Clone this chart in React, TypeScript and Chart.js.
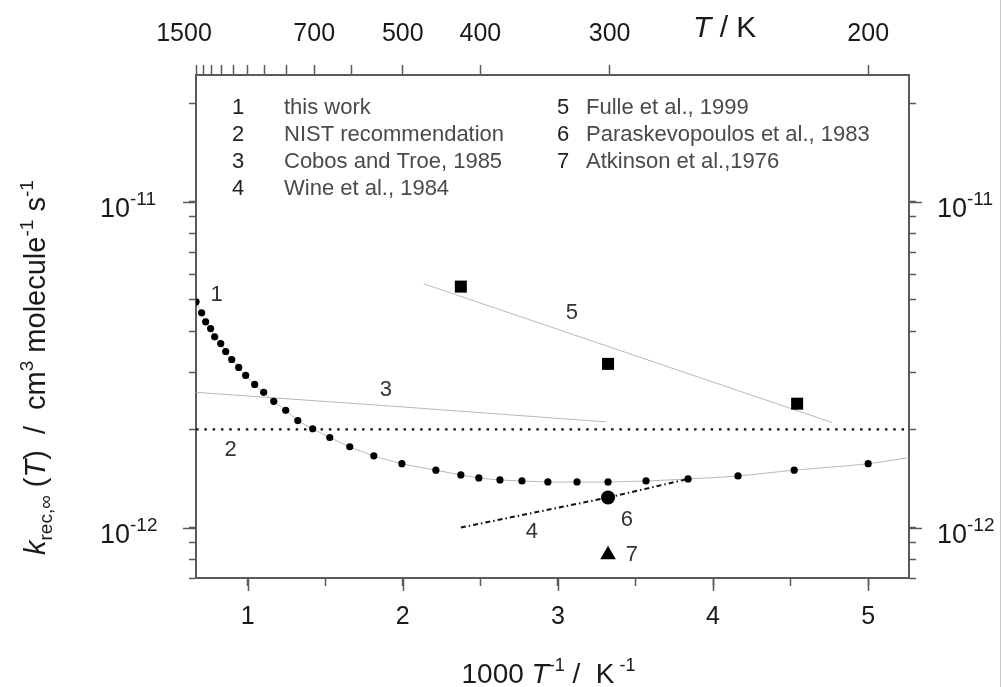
import React, { useEffect, useRef } from "react";
import { Chart, registerables } from "chart.js";

Chart.register(...registerables);

const FONT = "'Liberation Sans', Arial, Helvetica, sans-serif";

// ---- axis ranges ----
const xRange = [1000 / 1500, 1000 / 190];
const yRange = [7e-13, 2.45e-11];

// ---- tick definitions ----
const bottomMajor = [1, 2, 3, 4, 5];
const bottomMinor = [1.5, 2.5, 3.5, 4.5];
const topTickT = [1500, 1400, 1300, 1200, 1100, 1000, 900, 800, 700, 600, 500, 400, 300, 200];
const topLabelT = [700, 500, 400, 300, 200];
const topEdgeLabelT = 1500;
const yMajor = [1e-12, 1e-11];
const yMajorExp = ["-12", "-11"];
const yMinor = [7e-13, 8e-13, 9e-13, 2e-12, 3e-12, 4e-12, 5e-12, 6e-12, 7e-12, 8e-12, 9e-12, 2e-11];

// ---- series 1: this work (1000/T, k) ----
const thisWorkX = [0.667, 0.703, 0.729, 0.761, 0.787, 0.826, 0.858, 0.897, 0.942, 0.987, 1.045, 1.103, 1.168, 1.245, 1.323, 1.419, 1.529, 1.658, 1.813, 1.994, 2.213, 2.374, 2.49, 2.626, 2.768, 2.935, 3.123, 3.323, 3.568, 3.839, 4.161, 4.523, 5.0];
const thisWorkK = [4.93e-12, 4.56e-12, 4.28e-12, 4.08e-12, 3.85e-12, 3.67e-12, 3.47e-12, 3.28e-12, 3.1e-12, 2.93e-12, 2.75e-12, 2.6e-12, 2.44e-12, 2.29e-12, 2.13e-12, 2.01e-12, 1.89e-12, 1.77e-12, 1.66e-12, 1.57e-12, 1.5e-12, 1.45e-12, 1.42e-12, 1.4e-12, 1.39e-12, 1.38e-12, 1.38e-12, 1.38e-12, 1.39e-12, 1.41e-12, 1.44e-12, 1.5e-12, 1.57e-12];
const thisWorkEndX = [5.263];
const thisWorkEndK = [1.64e-12];

// ---- series 2: NIST recommendation ----
const nistX = [0.667, 5.263];
const nistK = [2.0e-12, 2.0e-12];

// ---- series 3: Cobos and Troe, 1985 ----
const cobosX = [0.667, 1.974, 3.31];
const cobosK = [2.6e-12, 2.35e-12, 2.11e-12];

// ---- series 4: Wine et al., 1984 ----
const wineX = [2.374, 3.323, 3.839];
const wineK = [1.0e-12, 1.236e-12, 1.41e-12];

// ---- series 5: Fulle et al., 1999 ----
const fulleX = [2.374, 3.323, 4.542];
const fulleK = [5.49e-12, 3.18e-12, 2.4e-12];
const fulleFitX = [2.135, 4.768];
const fulleFitK = [5.6e-12, 2.1e-12];

// ---- series 6: Paraskevopoulos et al., 1983 ----
const parasX = [3.323];
const parasK = [1.236e-12];

// ---- series 7: Atkinson et al., 1976 ----
const atkX = [3.323];
const atkK = [8.25e-13];

// ---- legend ----
const legendNums = ["1", "2", "3", "4", "5", "6", "7"];
const legendTexts = [
  "this work",
  "NIST recommendation",
  "Cobos and Troe, 1985",
  "Wine et al., 1984",
  "Fulle et al., 1999",
  "Paraskevopoulos et al., 1983",
  "Atkinson et al.,1976",
];

// curve label anchors (data coordinates)
const curveLabels = ["1", "2", "3", "4", "5", "6", "7"];
const curveLabelX = [0.8, 0.89, 1.89, 2.832, 3.09, 3.445, 3.477];
const curveLabelK = [5.19e-12, 1.735e-12, 2.65e-12, 9.72e-13, 4.57e-12, 1.058e-12, 8.26e-13];

const AXIS = "#5a5a5a";
const TXT = "#1a1a1a";
const LIGHT = "#b8b8b8";

const pts = (xs: number[], ys: number[]) => xs.map((x, i) => ({ x, y: ys[i] }));

type Part = { t: string; s: number; it?: boolean; dy?: number };
const fontOf = (p: Part) => `${p.it ? "italic " : ""}${p.s}px ${FONT}`;
function drawRich(ctx: CanvasRenderingContext2D, parts: Part[], x: number, y: number, align: "left" | "center" | "right") {
  let total = 0;
  const ws = parts.map((p) => {
    ctx.font = fontOf(p);
    const w = ctx.measureText(p.t).width;
    total += w;
    return w;
  });
  let cx = align === "left" ? x : align === "center" ? x - total / 2 : x - total;
  ctx.textAlign = "left";
  ctx.textBaseline = "alphabetic";
  parts.forEach((p, i) => {
    ctx.font = fontOf(p);
    ctx.fillText(p.t, cx, y + (p.dy || 0));
    cx += ws[i];
  });
}

const annotPlugin = {
  id: "annot",
  afterDraw(chart: any) {
    const ctx: CanvasRenderingContext2D = chart.ctx;
    const xs = chart.scales.x;
    const xt = chart.scales.x2;
    const ys = chart.scales.y;
    const { left, right, bottom } = chart.chartArea;
    ctx.save();

    // longer major tick marks
    ctx.strokeStyle = AXIS;
    ctx.lineWidth = 1.5;
    ctx.beginPath();
    bottomMajor.forEach((v) => {
      const px = Math.round(xs.getPixelForValue(v)) + 0.5;
      ctx.moveTo(px, bottom);
      ctx.lineTo(px, bottom + 13);
    });
    yMajor.forEach((v) => {
      const py = Math.round(ys.getPixelForValue(v)) + 0.5;
      ctx.moveTo(left - 13, py);
      ctx.lineTo(left, py);
      ctx.moveTo(right, py);
      ctx.lineTo(right + 13, py);
    });
    ctx.stroke();

    // edge label of the top axis (set slightly left of its tick, as in the original)
    ctx.fillStyle = TXT;
    ctx.font = `25px ${FONT}`;
    ctx.textAlign = "center";
    ctx.textBaseline = "middle";
    ctx.fillText(String(topEdgeLabelT), xt.getPixelForValue(1000 / topEdgeLabelT) - 12, 34);

    // y tick labels with superscripts
    yMajor.forEach((v, i) => {
      const py = ys.getPixelForValue(v);
      const parts: Part[] = [
        { t: "10", s: 27 },
        { t: yMajorExp[i], s: 19, dy: -12 },
      ];
      drawRich(ctx, parts, 100, py + 15, "left");
      drawRich(ctx, parts, 937, py + 15, "left");
    });

    // top axis title
    drawRich(ctx, [{ t: "T", s: 30, it: true }, { t: " / K", s: 30 }], 693, 37, "left");

    // bottom axis title
    drawRich(
      ctx,
      [
        { t: "1000 ", s: 28 },
        { t: "T", s: 28, it: true },
        { t: "-1", s: 18, dy: -12 },
        { t: " /  K", s: 28 },
        { t: " -1", s: 18, dy: -12 },
      ],
      (left + right) / 2 - 4,
      683,
      "center"
    );

    // y axis title (rotated)
    ctx.save();
    ctx.translate(45, 555);
    ctx.rotate(-Math.PI / 2);
    drawRich(
      ctx,
      [
        { t: "k", s: 29, it: true },
        { t: "rec,\u221e", s: 19, dy: 7 },
        { t: " (", s: 29 },
        { t: "T", s: 29, it: true },
        { t: ")  /  cm", s: 29 },
        { t: "3", s: 19, dy: -12 },
        { t: " molecule", s: 29 },
        { t: "-1", s: 19, dy: -12 },
        { t: " s", s: 29 },
        { t: "-1", s: 19, dy: -12 },
      ],
      0,
      0,
      "left"
    );
    ctx.restore();

    // legend
    const rowY = [108, 135, 162, 189];
    ctx.textBaseline = "middle";
    legendNums.forEach((n, i) => {
      const col = i < 4 ? 0 : 1;
      const row = i < 4 ? i : i - 4;
      const y = rowY[row];
      ctx.font = `22px ${FONT}`;
      ctx.fillStyle = "#222";
      ctx.textAlign = "center";
      ctx.fillText(n, col === 0 ? 238 : 563, y);
      ctx.fillStyle = "#4a4a4a";
      ctx.textAlign = "left";
      ctx.fillText(legendTexts[i], col === 0 ? 284 : 586, y);
    });

    // curve labels
    ctx.font = `22px ${FONT}`;
    ctx.fillStyle = "#333";
    ctx.textAlign = "center";
    ctx.textBaseline = "middle";
    curveLabels.forEach((l, i) => {
      ctx.fillText(l, xs.getPixelForValue(curveLabelX[i]), ys.getPixelForValue(curveLabelK[i]));
    });

    // right border line of the image
    ctx.strokeStyle = "#c8c8c8";
    ctx.lineWidth = 1;
    ctx.beginPath();
    ctx.moveTo(1000.5, 0);
    ctx.lineTo(1000.5, 687);
    ctx.stroke();

    ctx.restore();
  },
};

const axisGrid = (len: number) => ({
  drawOnChartArea: false,
  drawTicks: true,
  tickLength: len,
  tickColor: AXIS,
  tickWidth: 1.5,
  color: AXIS,
});
const axisBorder = { display: true, color: AXIS, width: 2 };

export default function App() {
  const ref = useRef<HTMLCanvasElement | null>(null);

  useEffect(() => {
    if (!ref.current) return;
    const chart = new Chart(ref.current, {
      type: "scatter",
      data: {
        datasets: [
          {
            label: "Paraskevopoulos et al., 1983",
            data: pts(parasX, parasK),
            pointStyle: "circle",
            pointRadius: 7,
            backgroundColor: "#000",
            borderColor: "#000",
            borderWidth: 0,
            order: 1,
          },
          {
            label: "Atkinson et al., 1976",
            data: pts(atkX, atkK),
            pointStyle: "triangle",
            pointRadius: 9,
            backgroundColor: "#000",
            borderColor: "#000",
            borderWidth: 0,
            order: 1,
          },
          {
            label: "Fulle et al., 1999",
            data: pts(fulleX, fulleK),
            pointStyle: "rect",
            pointRadius: 8.5,
            backgroundColor: "#000",
            borderColor: "#000",
            borderWidth: 0,
            order: 1,
          },
          {
            label: "this work",
            data: pts(thisWorkX, thisWorkK),
            pointStyle: "circle",
            pointRadius: 3.6,
            backgroundColor: "#000",
            borderColor: "#000",
            borderWidth: 0,
            order: 2,
          },
          {
            label: "this work (curve)",
            data: pts([...thisWorkX, ...thisWorkEndX], [...thisWorkK, ...thisWorkEndK]),
            showLine: true,
            pointRadius: 0,
            borderColor: LIGHT,
            borderWidth: 1,
            tension: 0.3,
            order: 5,
          },
          {
            label: "NIST recommendation",
            data: pts(nistX, nistK),
            showLine: true,
            pointRadius: 0,
            borderColor: "#111",
            borderWidth: 2.2,
            borderDash: [2.5, 5.8],
            order: 4,
          },
          {
            label: "Cobos and Troe, 1985",
            data: pts(cobosX, cobosK),
            showLine: true,
            pointRadius: 0,
            borderColor: LIGHT,
            borderWidth: 1,
            order: 5,
          },
          {
            label: "Fulle fit",
            data: pts(fulleFitX, fulleFitK),
            showLine: true,
            pointRadius: 0,
            borderColor: LIGHT,
            borderWidth: 1,
            order: 5,
          },
          {
            label: "Wine et al., 1984",
            data: pts(wineX, wineK),
            showLine: true,
            pointRadius: 0,
            borderColor: "#111",
            borderWidth: 2,
            borderDash: [5, 3, 1.5, 3],
            order: 4,
          },
        ],
      },
      options: {
        responsive: false,
        animation: false,
        layout: { padding: 0 },
        plugins: { legend: { display: false }, tooltip: { enabled: false } },
        scales: {
          x: {
            type: "linear",
            position: "bottom",
            min: xRange[0],
            max: xRange[1],
            afterBuildTicks: (s: any) => {
              s.ticks = [...bottomMajor, ...bottomMinor].sort((a, b) => a - b).map((v) => ({ value: v }));
            },
            afterFit: (s: any) => {
              s.height = 109;
            },
            ticks: {
              autoSkip: false,
              maxRotation: 0,
              minRotation: 0,
              padding: 16,
              color: TXT,
              font: { family: FONT, size: 25 },
              callback: (v: any) => (Number.isInteger(v) ? String(v) : ""),
            },
            grid: axisGrid(8),
            border: axisBorder,
          },
          x2: {
            type: "linear",
            position: "top",
            min: xRange[0],
            max: xRange[1],
            afterBuildTicks: (s: any) => {
              s.ticks = topTickT.map((T) => ({ value: 1000 / T }));
            },
            afterFit: (s: any) => {
              s.height = 75;
            },
            ticks: {
              autoSkip: false,
              maxRotation: 0,
              minRotation: 0,
              padding: 16,
              color: TXT,
              font: { family: FONT, size: 25 },
              callback: (v: any) => {
                const T = Math.round(1000 / v);
                return topLabelT.includes(T) ? String(T) : "";
              },
            },
            grid: axisGrid(10),
            border: axisBorder,
          },
          y: {
            type: "logarithmic",
            position: "left",
            min: yRange[0],
            max: yRange[1],
            afterBuildTicks: (s: any) => {
              s.ticks = [...yMajor, ...yMinor].map((v) => ({ value: v }));
            },
            afterFit: (s: any) => {
              s.width = 196;
            },
            ticks: { display: false, autoSkip: false },
            grid: axisGrid(7),
            border: axisBorder,
          },
          y2: {
            type: "logarithmic",
            position: "right",
            min: yRange[0],
            max: yRange[1],
            afterBuildTicks: (s: any) => {
              s.ticks = [...yMajor, ...yMinor].map((v) => ({ value: v }));
            },
            afterFit: (s: any) => {
              s.width = 93;
            },
            ticks: { display: false, autoSkip: false },
            grid: axisGrid(7),
            border: axisBorder,
          },
        },
      },
      plugins: [annotPlugin],
    } as any);
    return () => chart.destroy();
  }, []);

  return (
    <div style={{ position: "absolute", left: 0, top: 0, width: 1002, height: 687, background: "#fff" }}>
      <canvas ref={ref} width={1002} height={687} style={{ width: 1002, height: 687, display: "block" }} />
    </div>
  );
}
